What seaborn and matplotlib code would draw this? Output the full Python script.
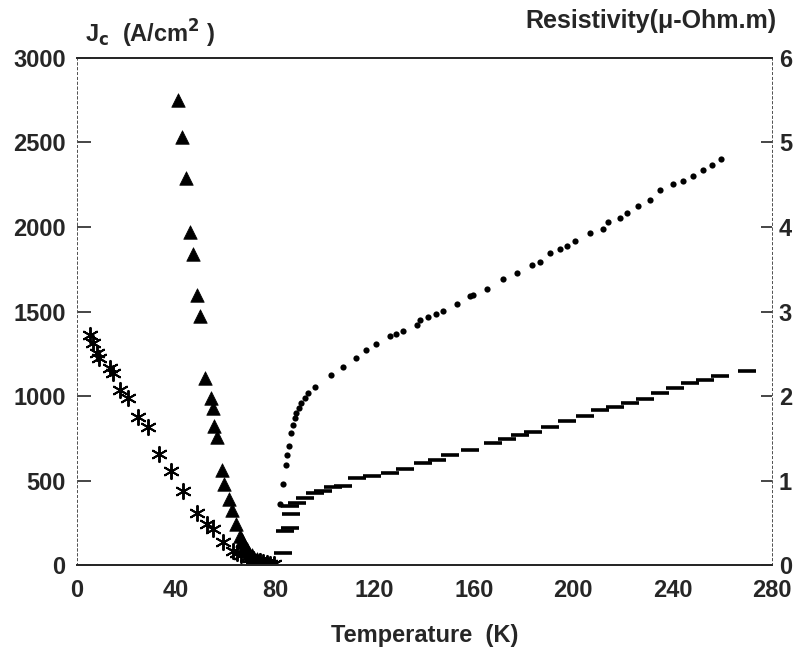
import numpy as np
import pandas as pd
import matplotlib
matplotlib.use("Agg")
import matplotlib.pyplot as plt
import seaborn as sns

# ---------------------------------------------------------
# Data
# ---------------------------------------------------------
# Jc, sample A (filled triangles)
tri_T = [40.7, 42.3, 44.0, 45.6, 46.8, 48.4, 49.6, 51.6, 54.0, 54.8, 55.2, 56.4,
         58.4, 59.2, 61.2, 62.4, 64.1, 65.7, 66.5, 67.5, 68.5, 69.5, 70.5, 71.5,
         72.5, 73.5, 75.0, 76.5, 78.0, 79.0]
tri_Jc = [2750, 2530, 2290, 1970, 1840, 1600, 1475, 1105, 990, 930, 825, 760,
          565, 480, 390, 325, 245, 175, 150, 115, 95, 75, 60, 45,
          35, 28, 20, 12, 5, 2]

# Jc, sample B (asterisks)
star_T = [5.2, 6.4, 8.1, 8.9, 13.3, 14.5, 17.3, 20.5, 24.6, 28.6, 33.0, 37.9,
          42.7, 48.3, 52.4, 54.8, 58.8, 62.9, 64.5, 66.0, 68.5, 70.0, 71.0,
          73.7, 75.0, 76.5, 78.0, 79.5]
star_Jc = [1361, 1314, 1254, 1225, 1166, 1136, 1036, 988, 876, 817, 657, 560,
           440, 310, 245, 215, 140, 85, 75, 62, 50, 42, 35,
           25, 20, 15, 10, 5]

# Resistivity, upper curve (dots)
dot_T = [81.8, 82.9, 84.2, 84.7, 85.5, 86.5, 87.1, 87.8, 88.5, 89.6, 90.5, 91.9,
         93.2, 95.9, 102.6, 107.3, 112.4, 116.7, 120.7, 126.1, 128.8, 131.5,
         136.9, 138.2, 141.5, 144.9, 147.6, 153.0, 158.3, 159.7, 165.1, 171.8,
         177.2, 183.2, 186.5, 190.6, 194.6, 197.3, 200.6, 206.7, 212.0, 214.1,
         218.8, 221.5, 226.1, 230.9, 234.9, 240.2, 244.3, 248.3, 252.3, 255.7,
         259.7]
dot_rho = [0.72, 0.96, 1.19, 1.30, 1.41, 1.56, 1.66, 1.74, 1.80, 1.86, 1.92, 1.98,
           2.04, 2.11, 2.25, 2.34, 2.45, 2.54, 2.62, 2.71, 2.73, 2.77,
           2.84, 2.90, 2.94, 2.97, 3.01, 3.09, 3.18, 3.20, 3.27, 3.38,
           3.46, 3.55, 3.59, 3.69, 3.74, 3.78, 3.83, 3.93, 3.98, 4.06,
           4.11, 4.17, 4.25, 4.32, 4.44, 4.51, 4.55, 4.60, 4.68, 4.73,
           4.81]

# Resistivity, lower curve (dashes)
dash_T = [83.0, 83.8, 85.8, 86.2, 85.8, 88.6, 91.9, 95.9, 99.1, 103.1, 107.2,
          112.8, 118.9, 126.1, 132.2, 139.4, 145.0, 150.3, 158.3, 167.6, 173.2,
          178.5, 183.7, 190.6, 197.4, 204.7, 210.7, 216.8, 222.8, 228.8, 234.9,
          240.9, 246.9, 253.0, 259.1, 269.9]
dash_rho = [0.14, 0.40, 0.44, 0.60, 0.70, 0.74, 0.79, 0.85, 0.88, 0.92, 0.94,
            1.03, 1.06, 1.09, 1.14, 1.21, 1.25, 1.30, 1.36, 1.45, 1.49,
            1.54, 1.58, 1.63, 1.70, 1.76, 1.83, 1.87, 1.92, 1.97, 2.04,
            2.10, 2.15, 2.19, 2.24, 2.30]

x_ticks = [0, 40, 80, 120, 160, 200, 240, 280]
jc_ticks = [0, 500, 1000, 1500, 2000, 2500, 3000]
rho_ticks = [0, 1, 2, 3, 4, 5, 6]

# ---------------------------------------------------------
# Plot
# ---------------------------------------------------------
sns.set_style("white")
plt.rcParams["font.family"] = ["Liberation Sans", "DejaVu Sans"]
plt.rcParams["mathtext.default"] = "bf"

fig = plt.figure(figsize=(7.99, 6.58), dpi=100)
ax = fig.add_axes([0.096, 0.141, 0.870, 0.771])
ax2 = ax.twinx()

tri = pd.DataFrame({"T": tri_T, "Jc": tri_Jc})
star = pd.DataFrame({"T": star_T, "Jc": star_Jc})
dots = pd.DataFrame({"T": dot_T, "rho": dot_rho})
dashes = pd.DataFrame({"T": dash_T, "rho": dash_rho})

sns.scatterplot(data=tri, x="T", y="Jc", ax=ax, marker="^", s=95,
                color="black", edgecolor="black", linewidth=0.5)
sns.scatterplot(data=star, x="T", y="Jc", ax=ax, marker=(6, 2, 0), s=120,
                color="black", linewidth=1.4)
sns.scatterplot(data=dots, x="T", y="rho", ax=ax2, marker="o", s=20,
                color="black", edgecolor="black", linewidth=0)
sns.scatterplot(data=dashes, x="T", y="rho", ax=ax2, marker="_", s=180,
                color="black", linewidth=2.6)

ax.set_xlim(0, 280)
ax.set_ylim(0, 3000)
ax2.set_ylim(0, 6)
ax.set_xticks(x_ticks)
ax.set_yticks(jc_ticks)
ax2.set_yticks(rho_ticks)

for a in (ax, ax2):
    a.set_xlabel("")
    a.set_ylabel("")
    a.spines["top"].set_linewidth(1.3)
    a.spines["bottom"].set_linewidth(1.3)
    for side in ("left", "right"):
        a.spines[side].set_linestyle((0, (2, 3)))
        a.spines[side].set_linewidth(0.7)
        a.spines[side].set_color("#555555")

ax.tick_params(axis="y", direction="in", length=10, width=1.2, pad=8,
               labelsize=17)
ax.tick_params(axis="x", length=0, pad=10, labelsize=17)
ax2.tick_params(axis="y", direction="in", length=8, width=1.2, pad=5,
                labelsize=17)
for lbl in ax.get_xticklabels() + ax.get_yticklabels() + ax2.get_yticklabels():
    lbl.set_fontweight("bold")

ax.set_xlabel("Temperature  (K)", fontsize=17, fontweight="bold", labelpad=16)
fig.text(0.107, 0.948, r"J$_c$  (A/cm$^2$ )", fontsize=17, fontweight="bold",
         ha="left", va="center")
fig.text(0.972, 0.968, "Resistivity(\u03bc-Ohm.m)", fontsize=18,
         fontweight="bold", ha="right", va="center")

fig.savefig("out.png", dpi=100)
